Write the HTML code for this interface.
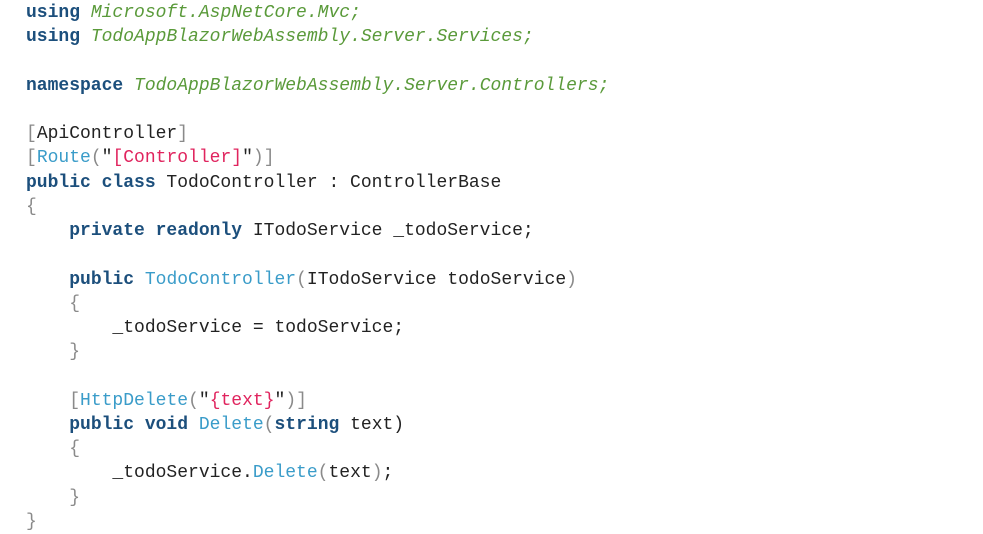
<!DOCTYPE html>
<html><head><meta charset="utf-8"><style>
html,body{margin:0;padding:0;background:#fff;width:983px;height:534px;overflow:hidden}
pre{margin:0;position:absolute;left:26px;top:1px;font-family:"Liberation Mono","Courier New",monospace;font-size:18px;line-height:24.24px;color:#222}
.k{color:#1c4f7c;font-weight:bold}
.n{color:#5a9a3a;font-style:italic}
.g{color:#8a8a8a}
.t{color:#3a9cc9}
.r{color:#e0245e}
</style></head><body><pre><span class="k">using</span> <span class="n">Microsoft.AspNetCore.Mvc;</span>
<span class="k">using</span> <span class="n">TodoAppBlazorWebAssembly.Server.Services;</span>

<span class="k">namespace</span> <span class="n">TodoAppBlazorWebAssembly.Server.Controllers;</span>

<span class="g">[</span>ApiController<span class="g">]</span>
<span class="g">[</span><span class="t">Route</span><span class="g">(</span>"<span class="r">[Controller]</span>"<span class="g">)]</span>
<span class="k">public class</span> TodoController : ControllerBase
<span class="g">{</span>
    <span class="k">private readonly</span> ITodoService _todoService;

    <span class="k">public</span> <span class="t">TodoController</span><span class="g">(</span>ITodoService todoService<span class="g">)</span>
    <span class="g">{</span>
        _todoService = todoService;
    <span class="g">}</span>

    <span class="g">[</span><span class="t">HttpDelete</span><span class="g">(</span>"<span class="r">{text}</span>"<span class="g">)]</span>
    <span class="k">public void</span> <span class="t">Delete</span><span class="g">(</span><span class="k">string</span> text)
    <span class="g">{</span>
        _todoService.<span class="t">Delete</span><span class="g">(</span>text<span class="g">)</span>;
    <span class="g">}</span>
<span class="g">}</span></pre></body></html>
